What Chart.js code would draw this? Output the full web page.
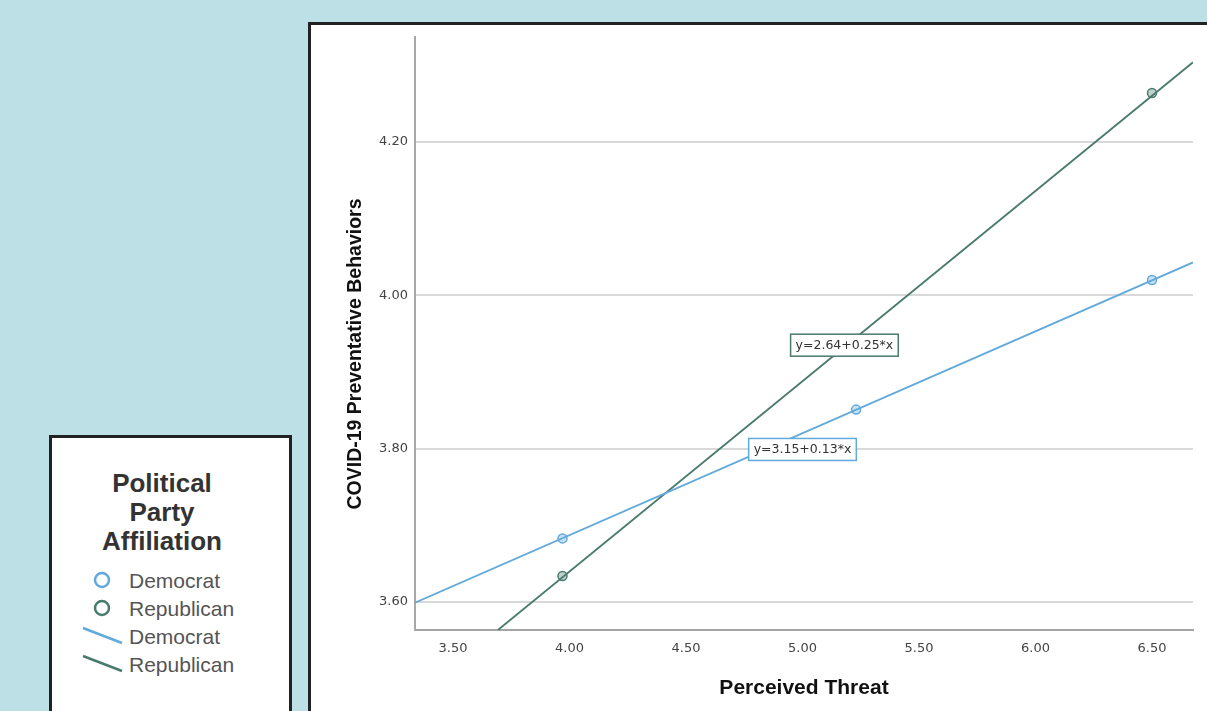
<!DOCTYPE html>
<html lang="en">
<head>
<meta charset="UTF-8">
<title>Perceived Threat and COVID-19 Preventative Behaviors</title>
<script src="https://cdn.jsdelivr.net/npm/chart.js"></script>
<style>
  html, body { margin: 0; padding: 0; }
  body { width: 1207px; height: 711px; background: #bddfe6; position: relative; overflow: hidden; }
  #deco { position: absolute; left: 0; top: 0; }
  #wrap { position: absolute; left: 0; top: 0; width: 1207px; height: 711px; }
</style>
</head>
<body>

<!-- white frames and the legend box -->
<svg id="deco" width="1207" height="711" font-family="Liberation Sans, Arial, sans-serif">
  <rect x="309.5" y="23.5" width="1000" height="800" fill="#fff" stroke="#222" stroke-width="3"/>
  <rect x="50.5" y="436.5" width="240" height="300" fill="#fff" stroke="#222" stroke-width="3"/>
  <g id="legendItems"></g>
</svg>

<div id="wrap"><canvas id="chart" width="1207" height="711"></canvas></div>

<script>
    // series
    const seriesNames = ['Democrat', 'Republican'];
    const seriesColors = ['#62a9dc', '#4a7a6e'];

    // group means (Perceived Threat, Preventative Behaviors)
    const demX = [3.97, 5.23, 6.50];
    const demY = [3.683, 3.851, 4.020];
    const repX = [3.97, 6.50];
    const repY = [3.634, 4.264];

    // fit lines, read where they meet the plot edges
    const demFitX = [3.337, 6.676];
    const demFitY = [3.599, 4.043];
    const repFitX = [3.693, 6.676];
    const repFitY = [3.5635, 4.304];

    // fit equation labels
    const fitLabels = ['y=3.15+0.13*x', 'y=2.64+0.25*x'];
    const fitLabelX = [5.00, 5.18];
    const fitLabelY = [3.799, 3.935];

    // axes
    const xTicks = [3.5, 4.0, 4.5, 5.0, 5.5, 6.0, 6.5];
    const yTicks = [3.6, 3.8, 4.0, 4.2];
    const xRange = [3.337, 6.676];
    const yRange = [3.5635, 4.337];
    const xTitle = 'Perceived Threat';
    const yTitle = 'COVID-19 Preventative Behaviors';
    const legendTitle = ['Political', 'Party', 'Affiliation'];

    const toXY = (xs, ys) => xs.map((x, i) => ({ x: x, y: ys[i] }));

    // legend (outside the chart frame)
    const svgNS = 'http://www.w3.org/2000/svg';
    const lg = document.getElementById('legendItems');
    function svgEl(tag, attrs, text) {
        const el = document.createElementNS(svgNS, tag);
        for (const k in attrs) el.setAttribute(k, attrs[k]);
        if (text) el.textContent = text;
        lg.appendChild(el);
        return el;
    }
    legendTitle.forEach((t, i) => {
        svgEl('text', { x: 162, y: 492 + i * 29, 'text-anchor': 'middle', 'font-size': 26, 'font-weight': 'bold', fill: '#333' }, t);
    });
    seriesNames.forEach((name, i) => {
        const cy = 580 + i * 28;
        svgEl('circle', { cx: 102, cy: cy, r: 7, fill: 'none', stroke: seriesColors[i], 'stroke-width': 2.5 });
        svgEl('text', { x: 129, y: cy + 7.5, 'font-size': 21, fill: '#555' }, name);
    });
    seriesNames.forEach((name, i) => {
        const cy = 636 + i * 28;
        svgEl('line', { x1: 83, y1: cy - 8, x2: 122, y2: cy + 7, stroke: seriesColors[i], 'stroke-width': 2.5 });
        svgEl('text', { x: 129, y: cy + 7.5, 'font-size': 21, fill: '#555' }, name);
    });

    // equation boxes and rotated y title
    const extrasPlugin = {
        id: 'extras',
        afterDatasetsDraw(chart) {
            const { ctx, scales: { x, y } } = chart;
            ctx.save();
            ctx.font = '12.5px "DejaVu Sans"';
            ctx.textAlign = 'center';
            ctx.textBaseline = 'middle';
            fitLabels.forEach((txt, i) => {
                const cx = x.getPixelForValue(fitLabelX[i]);
                const cy = y.getPixelForValue(fitLabelY[i]);
                const w = ctx.measureText(txt).width + 10;
                const h = 22;
                ctx.fillStyle = '#fff';
                ctx.fillRect(cx - w / 2, cy - h / 2, w, h);
                ctx.strokeStyle = seriesColors[i];
                ctx.lineWidth = 1.5;
                ctx.strokeRect(cx - w / 2, cy - h / 2, w, h);
                ctx.fillStyle = '#333';
                ctx.fillText(txt, cx, cy + 0.5);
            });
            ctx.restore();
        },
        afterDraw(chart) {
            const ctx = chart.ctx;
            ctx.save();
            ctx.translate(356, 354);
            ctx.rotate(-Math.PI / 2);
            ctx.font = 'bold 19.5px "Liberation Sans"';
            ctx.fillStyle = '#111';
            ctx.textAlign = 'center';
            ctx.textBaseline = 'middle';
            ctx.fillText(yTitle, 0, 0);
            ctx.restore();
        }
    };

    Chart.defaults.font.family = '"Liberation Sans", Arial, sans-serif';

    new Chart(document.getElementById('chart'), {
        type: 'scatter',
        data: {
            datasets: [
                {
                    label: seriesNames[0], data: toXY(demX, demY),
                    borderColor: seriesColors[0], backgroundColor: 'rgba(98,169,220,0.35)',
                    pointRadius: 4.5, borderWidth: 1.5, showLine: false
                },
                {
                    label: seriesNames[1], data: toXY(repX, repY),
                    borderColor: seriesColors[1], backgroundColor: 'rgba(74,122,110,0.35)',
                    pointRadius: 4.5, borderWidth: 1.5, showLine: false
                },
                {
                    label: seriesNames[0] + ' fit', data: toXY(demFitX, demFitY),
                    borderColor: seriesColors[0], borderWidth: 1.8, pointRadius: 0, showLine: true
                },
                {
                    label: seriesNames[1] + ' fit', data: toXY(repFitX, repFitY),
                    borderColor: seriesColors[1], borderWidth: 1.8, pointRadius: 0, showLine: true
                }
            ]
        },
        options: {
            responsive: false,
            animation: false,
            layout: { padding: { left: 330, right: 14, top: 37, bottom: 0 } },
            plugins: { legend: { display: false }, tooltip: { enabled: false } },
            scales: {
                x: {
                    type: 'linear', min: xRange[0], max: xRange[1],
                    afterBuildTicks: s => { s.ticks = xTicks.map(v => ({ value: v })); },
                    afterFit: s => { s.height = 81; },
                    grid: { display: false, drawTicks: false },
                    border: { display: true, color: '#a4a4a4', width: 2 },
                    ticks: {
                        callback: v => v.toFixed(2), padding: 11,
                        font: { family: '"DejaVu Sans"', size: 13 }, color: '#444'
                    },
                    title: {
                        display: true, text: xTitle, color: '#111',
                        font: { size: 21, weight: 'bold' }, padding: { top: 4, bottom: 10 }
                    }
                },
                y: {
                    type: 'linear', min: yRange[0], max: yRange[1],
                    afterBuildTicks: s => { s.ticks = yTicks.map(v => ({ value: v })); },
                    afterFit: s => { s.width = 85; },
                    grid: { color: '#d9d9d9', lineWidth: 2, drawTicks: false },
                    border: { display: true, color: '#a8a8a8', width: 2 },
                    ticks: {
                        callback: v => v.toFixed(2), padding: 7,
                        font: { family: '"DejaVu Sans"', size: 13 }, color: '#444'
                    }
                }
            }
        },
        plugins: [extrasPlugin]
    });
</script>

</body>
</html>
